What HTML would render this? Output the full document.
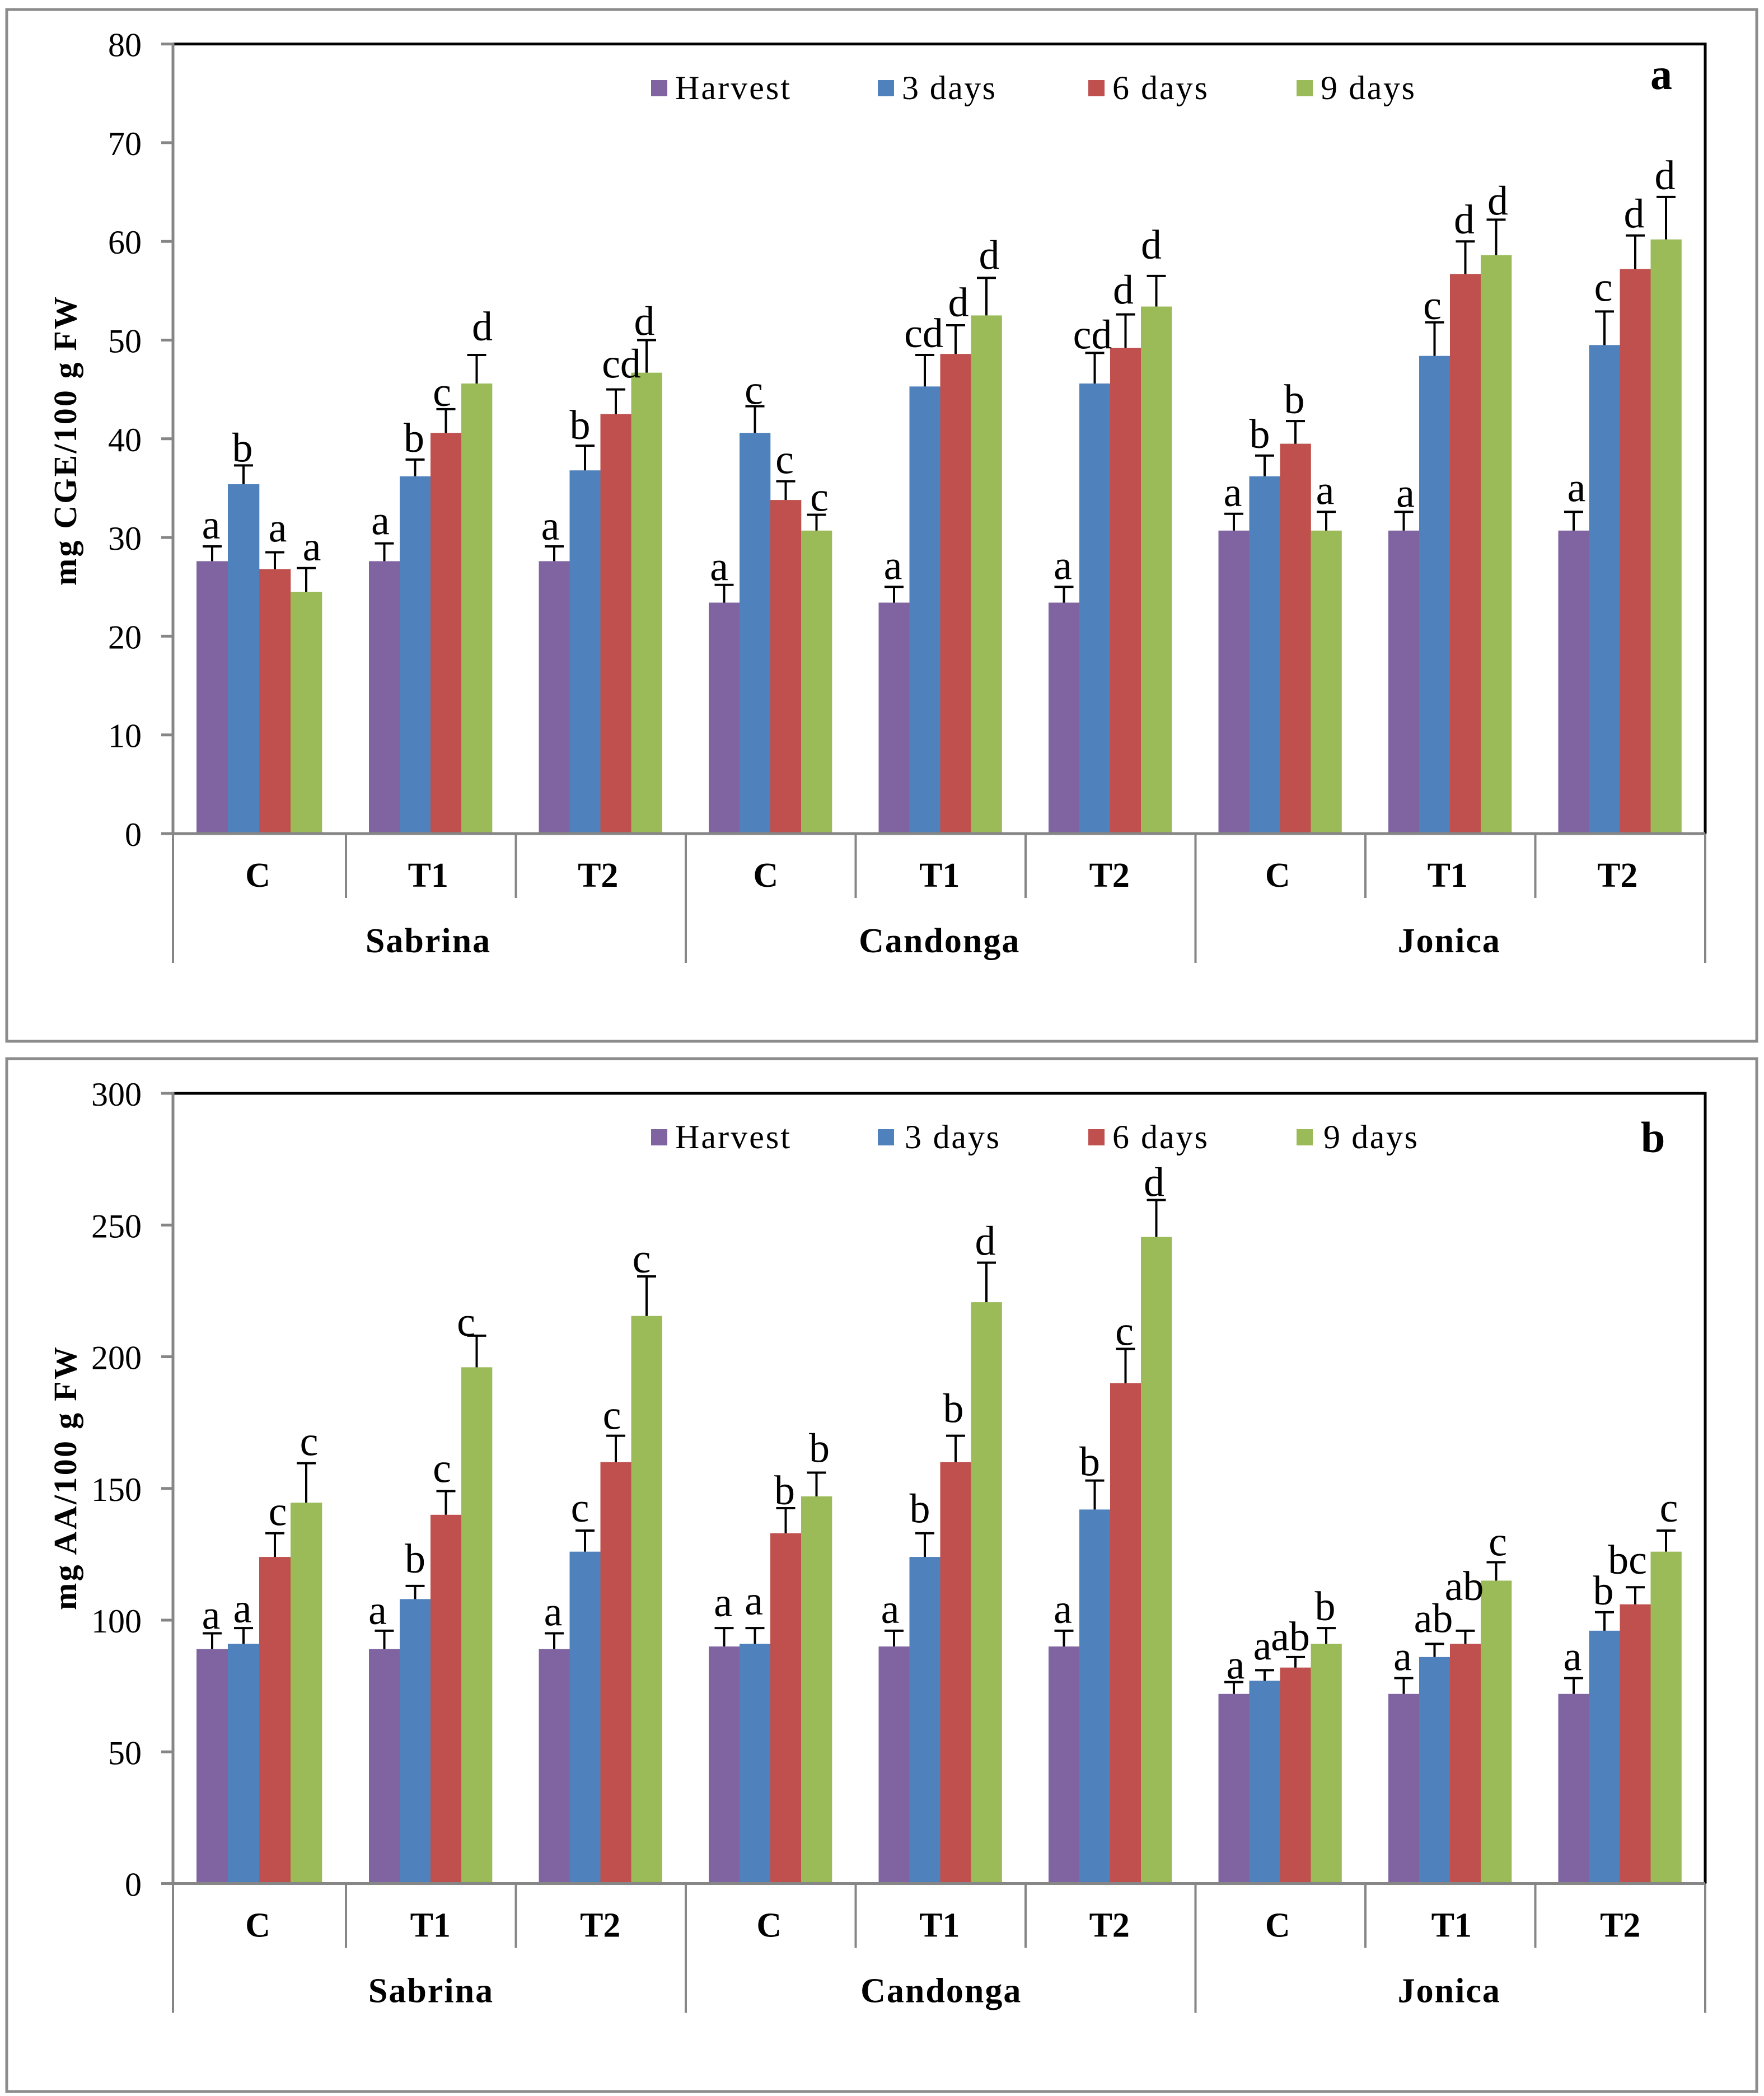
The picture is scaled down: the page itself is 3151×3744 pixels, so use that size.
<!DOCTYPE html>
<html>
<head>
<meta charset="utf-8">
<title>CGE and AA bar charts</title>
<style>
html,body{margin:0;padding:0;background:#fff}
svg{display:block}
text{font-family:"Liberation Serif",serif;fill:#000}
</style>
</head>
<body>
<svg id="chart" xmlns="http://www.w3.org/2000/svg" width="3151" height="3744" viewBox="0 0 3151 3744">
<rect width="3151" height="3744" fill="#fff"/>
<rect x="12" y="17" width="3126" height="1843" fill="#fff" stroke="#8c8c8c" stroke-width="5"/>
<rect x="12" y="1891" width="3126" height="1845" fill="#fff" stroke="#8c8c8c" stroke-width="5"/>
<g id="panel-a">
<text transform="translate(136,1046) rotate(-90)" font-size="58" font-weight="bold" textLength="516" lengthAdjust="spacing">mg CGE/100 g FW</text>
<g>
<rect x="1163" y="143" width="29" height="29" fill="#8064A2"/>
<text x="1206" y="177" font-size="60" textLength="205" lengthAdjust="spacing">Harvest</text>
<rect x="1568" y="143" width="29" height="29" fill="#4F81BD"/>
<text x="1611" y="177" font-size="60" textLength="167" lengthAdjust="spacing">3 days</text>
<rect x="1944" y="143" width="29" height="29" fill="#C0504D"/>
<text x="1987" y="177" font-size="60" textLength="170" lengthAdjust="spacing">6 days</text>
<rect x="2316" y="143" width="29" height="29" fill="#9BBB59"/>
<text x="2359" y="177" font-size="60" textLength="168" lengthAdjust="spacing">9 days</text>
</g>
<text x="2948" y="159" font-size="78" font-weight="bold">a</text>
</g>
<g id="panel-b">
<text transform="translate(136,2876) rotate(-90)" font-size="58" font-weight="bold" textLength="470" lengthAdjust="spacing">mg AA/100 g FW</text>
<g>
<rect x="1163" y="2017" width="29" height="29" fill="#8064A2"/>
<text x="1206" y="2051" font-size="60" textLength="205" lengthAdjust="spacing">Harvest</text>
<rect x="1568" y="2017" width="29" height="29" fill="#4F81BD"/>
<text x="1616" y="2051" font-size="60" textLength="169" lengthAdjust="spacing">3 days</text>
<rect x="1944" y="2017" width="29" height="29" fill="#C0504D"/>
<text x="1987" y="2051" font-size="60" textLength="170" lengthAdjust="spacing">6 days</text>
<rect x="2316" y="2017" width="29" height="29" fill="#9BBB59"/>
<text x="2364" y="2051" font-size="60" textLength="168" lengthAdjust="spacing">9 days</text>
</g>
<text x="2931" y="2058" font-size="78" font-weight="bold">b</text>
</g>
</svg>
<script>
// Shared categories
const treatments = ["C","T1","T2","C","T1","T2","C","T1","T2"];
const cultivars = ["Sabrina","Candonga","Jonica"];
const seriesNames = ["harvest","3-days","6-days","9-days"];
const seriesColors = ["#8064A2","#4F81BD","#C0504D","#9BBB59"];

// Panel a: mg CGE/100 g FW
const ticksA = [0,10,20,30,40,50,60,70,80];
const harvestA = [27.6,27.6,27.6,23.4,23.4,23.4,30.7,30.7,30.7];
const days3A   = [35.4,36.2,36.8,40.6,45.3,45.6,36.2,48.4,49.5];
const days6A   = [26.8,40.6,42.5,33.8,48.6,49.2,39.5,56.7,57.2];
const days9A   = [24.5,45.6,46.7,30.7,52.5,53.4,30.7,58.6,60.2];
const errHarvestA = [1.5,1.8,1.5,1.8,1.6,1.6,1.7,1.9,1.9];
const errDays3A   = [1.9,1.7,2.5,2.7,3.2,3.1,2.1,3.4,3.4];
const errDays6A   = [1.7,2.4,2.5,1.9,2.9,3.4,2.3,3.3,3.4];
const errDays9A   = [2.4,2.9,3.3,1.6,3.8,3.1,1.9,3.6,4.3];
const lettersHarvestA = ["a","a","a","a","a","a","a","a","a"];
const lettersDays3A   = ["b","b","b","c","cd","cd","b","c","c"];
const lettersDays6A   = ["a","c","cd","c","d","d","b","d","d"];
const lettersDays9A   = ["a","d","d","c","d","d","a","d","d"];

// Panel b: mg AA/100 g FW
const ticksB = [0,50,100,150,200,250,300];
const harvestB = [89,89,89,90,90,90,72,72,72];
const days3B   = [91,108,126,91,124,142,77,86,96];
const days6B   = [124,140,160,133,160,190,82,91,106];
const days9B   = [144.6,196,215.5,147,220.7,245.5,91,115,126];
const errHarvestB = [6,7,6,7,6,6,4.5,6,6];
const errDays3B   = [6,5,8,6,9,11,4,5,7];
const errDays6B   = [9,9,10,9.5,10,13,4,5,6.5];
const errDays9B   = [15,12,15,9,15,14,6,7,8];
const lettersHarvestB = ["a","a","a","a","a","a","a","a","a"];
const lettersDays3B   = ["a","b","c","a","b","b","a","ab","b"];
const lettersDays6B   = ["c","c","c","b","b","c","ab","ab","bc"];
const lettersDays9B   = ["c","c","c","b","d","d","b","c","c"];

// Hand placement tweaks for annotation text (dx, dy relative to default spot), keyed "series,category"
const letterTweaksA = {
  "0,3":[-7,6],"0,7":[5,5],"0,8":[7,-5],"0,1":[-5,-2],"0,2":[-5,2],
  "1,0":[0,7],"1,3":[0,10],"1,2":[-7,2],"1,5":[-2,6],"1,6":[-7,0],"1,7":[-2,8],"1,8":[0,-5],
  "2,0":[7,-5],"2,1":[-5,8],"2,2":[12,-7],"2,4":[7,-2],"2,5":[-2,-5],
  "3,0":[12,0],"3,1":[12,-12],"3,2":[-2,5],"3,3":[7,7],"3,4":[7,-2],"3,5":[-7,-17],"3,7":[5,5]
};
const letterTweaksB = {
  "0,0":[0,6],"0,1":[-10,2],"0,3":[0,-7],"0,4":[-5,0],"0,6":[5,8],
  "1,0":[0,4],"1,1":[2,-10],"1,2":[-7,-2],"1,3":[0,-10],"1,4":[-7,-5],"1,5":[-7,5],"1,6":[-2,-5],"1,7":[0,-7],
  "2,0":[7,0],"2,1":[-5,-2],"2,2":[-5,2],"2,3":[0,7],"2,4":[-2,-10],"2,5":[0,7],"2,6":[-7,2],"2,7":[0,-41],"2,8":[-12,-10],
  "3,0":[7,0],"3,1":[-17,14],"3,2":[-7,7],"3,3":[7,-5],"3,5":[-2,7],"3,7":[5,2],"3,8":[7,-2]
};
const treatmentShiftA = [0,-2,-2,-6,1,1,-2,-2,-2];
const treatmentShiftB = [0,2,2,0,1,1,-2,5,3];
const cultivarShiftA = [-2,-2,-2];
const cultivarShiftB = [3,1,-2];

const NS = "http://www.w3.org/2000/svg";
const plotLeft = 309, plotRight = 3046;

function edge(i){ return i === 0 ? plotLeft : 618 + 303.5 * (i - 1); }
function barStart(i){ return i === 0 ? 351 : edge(i) + 41; }
function barWidth(i){ return i === 0 ? 56 : 55; }

function make(tag, attrs, parent, txt){
  const el = document.createElementNS(NS, tag);
  for (const k in attrs) el.setAttribute(k, attrs[k]);
  if (txt !== undefined) el.textContent = txt;
  parent.appendChild(el);
  return el;
}

function drawPanel(parent, top, base, maxV, ticks, series, errs, letters, tweaks, tShift, cShift){
  const y = v => base - (v / maxV) * (base - top);

  const plotBorder = make("path", {d:`M${plotLeft},${top}H${plotRight}V${base}`, fill:"none", stroke:"#000", "stroke-width":5}, parent);
  
  

  series.forEach((vals, s) => {
    const g = make("g", {}, parent);
    
    
    vals.forEach((v, i) => {
      const x = barStart(i) + s * barWidth(i);
      const bar = make("rect", {x:x, y:y(v), width:barWidth(i) + 0.3, height:base - y(v), fill:seriesColors[s]}, g);
      
      
    });
  });

  series.forEach((vals, s) => {
    vals.forEach((v, i) => {
      const cx = barStart(i) + s * barWidth(i) + barWidth(i) / 2;
      const t = y(v + errs[s][i]);
      const err = make("path", {d:`M${cx},${y(v)}V${t}M${cx - 17},${t}H${cx + 17}`, fill:"none", stroke:"#000", "stroke-width":4}, parent);
      
      
      const tw = tweaks[s + "," + i] || [0, 0];
      const lab = make("text", {x:cx - 2 + tw[0], y:t - 14 + tw[1], "font-size":74, "text-anchor":"middle"}, parent, letters[s][i]);
      
      
    });
  });

  const axis = make("path", {d:`M${plotLeft},${top - 2}V${base}H${plotRight}`, fill:"none", stroke:"#868686", "stroke-width":5}, parent);
  
  

  ticks.forEach(v => {
    const tk = make("line", {x1:288, x2:plotLeft, y1:y(v), y2:y(v), stroke:"#868686", "stroke-width":5}, parent);
    
    
    const tl = make("text", {x:253, y:y(v) + 22, "font-size":60, "text-anchor":"end"}, parent, String(v));
    
    
  });

  for (let i = 0; i <= treatments.length; i++) {
    const long = i % 3 === 0;
    const sep = make("line", {x1:edge(i), x2:edge(i), y1:base, y2:base + (long ? 231 : 115), stroke:"#868686", "stroke-width":4}, parent);
    
    
  }

  treatments.forEach((t, i) => {
    const lbl = make("text", {x:(edge(i) + edge(i + 1)) / 2 - 3 + tShift[i], y:base + 95, "font-size":62, "font-weight":"bold", "text-anchor":"middle"}, parent, t);
    
    
  });

  cultivars.forEach((c, i) => {
    const lbl = make("text", {x:(edge(i * 3) + edge(i * 3 + 3)) / 2 + cShift[i], y:base + 212, "font-size":62, "font-weight":"bold", "text-anchor":"middle", "letter-spacing":2}, parent, c);
    
    
  });
}

drawPanel(document.getElementById("panel-a"), 78.6, 1489, 80, ticksA,
  [harvestA, days3A, days6A, days9A],
  [errHarvestA, errDays3A, errDays6A, errDays9A],
  [lettersHarvestA, lettersDays3A, lettersDays6A, lettersDays9A],
  letterTweaksA, treatmentShiftA, cultivarShiftA);

drawPanel(document.getElementById("panel-b"), 1953, 3364.5, 300, ticksB,
  [harvestB, days3B, days6B, days9B],
  [errHarvestB, errDays3B, errDays6B, errDays9B],
  [lettersHarvestB, lettersDays3B, lettersDays6B, lettersDays9B],
  letterTweaksB, treatmentShiftB, cultivarShiftB);
</script>
</body>
</html>
